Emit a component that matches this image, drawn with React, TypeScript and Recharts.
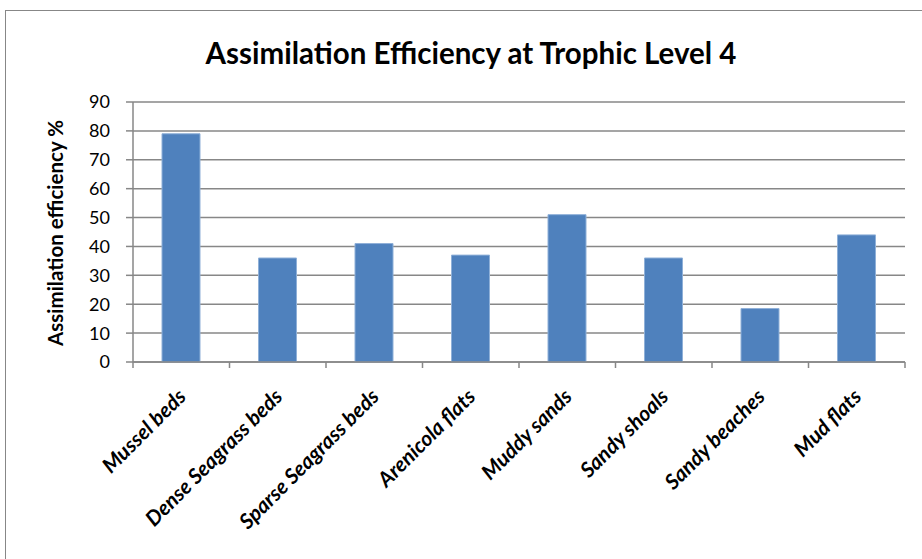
import React from 'react';
import { BarChart, Bar, XAxis, YAxis, CartesianGrid } from 'recharts';

const habitats = [
  'Mussel beds',
  'Dense Seagrass beds',
  'Sparse Seagrass beds',
  'Arenicola flats',
  'Muddy sands',
  'Sandy shoals',
  'Sandy beaches',
  'Mud flats',
];
const efficiency = [79, 36, 41, 37, 51, 36, 18.5, 44];
const yTicks = [0, 10, 20, 30, 40, 50, 60, 70, 80, 90];

const data = habitats.map((name, i) => ({ name, value: efficiency[i] }));

const W = 922;
const H = 559;
const PLOT_LEFT = 133;
const PLOT_RIGHT = 17;
const BAND = (W - PLOT_LEFT - PLOT_RIGHT) / habitats.length;
const FONT = 'Lato, "Open Sans", sans-serif';
const GRID = '#878787';

function CategoryTick(props: any) {
  const { x, y, payload, index } = props;
  const half = BAND / 2;
  return (
    <g>
      <line x1={x - half} y1={y - 8} x2={x - half} y2={y - 2} stroke={GRID} strokeWidth={1.5} />
      {index === habitats.length - 1 && (
        <line x1={x + half} y1={y - 8} x2={x + half} y2={y - 2} stroke={GRID} strokeWidth={1.5} />
      )}
      <text
        x={0}
        y={0}
        transform={`translate(${x + 6},${y + 28}) rotate(-45)`}
        textAnchor="end"
        fontFamily={FONT}
        fontSize={21}
        fontWeight={700}
        fontStyle="italic"
        fill="#000"
      >
        {payload.value}
      </text>
    </g>
  );
}

export default function App() {
  return (
    <div style={{ position: 'absolute', left: 0, top: 0, width: W, height: H, background: '#fff', overflow: 'hidden' }}>
      <div
        style={{
          position: 'absolute',
          left: 5,
          top: 10,
          width: W,
          height: H,
          border: `1.5px solid ${GRID}`,
        }}
      />
      <BarChart
        width={W}
        height={H}
        data={data}
        margin={{ top: 102, right: PLOT_RIGHT, bottom: 0, left: PLOT_LEFT - 60 }}
        style={{ position: 'absolute', left: 0, top: 0 }}
      >
        <text x={471} y={64} textAnchor="middle" fontFamily={FONT} fontSize={29.5} fontWeight={700} fill="#000">
          Assimilation Efficiency at Trophic Level 4
        </text>
        <text
          x={0}
          y={0}
          transform="translate(63,233) rotate(-90)"
          textAnchor="middle"
          fontFamily={FONT}
          fontSize={20.5}
          fontWeight={700}
          fill="#000"
        >
          Assimilation  efficiency %
        </text>
        <CartesianGrid vertical={false} stroke={GRID} strokeWidth={1.5} />
        <XAxis
          dataKey="name"
          height={197}
          interval={0}
          axisLine={{ stroke: GRID, strokeWidth: 1.5 }}
          tickLine={false}
          tick={<CategoryTick />}
        />
        <YAxis
          width={60}
          domain={[0, 90]}
          ticks={yTicks}
          interval={0}
          axisLine={{ stroke: GRID, strokeWidth: 1.5 }}
          tickLine={{ stroke: GRID, strokeWidth: 1.5 }}
          tickSize={7}
          tickMargin={16}
          tick={{ fontFamily: FONT, fontSize: 18, fill: '#000' }}
        />
        <Bar dataKey="value" fill="#4F81BD" stroke="#8fb0d8" strokeWidth={1} barSize={38} isAnimationActive={false} />
      </BarChart>
    </div>
  );
}
